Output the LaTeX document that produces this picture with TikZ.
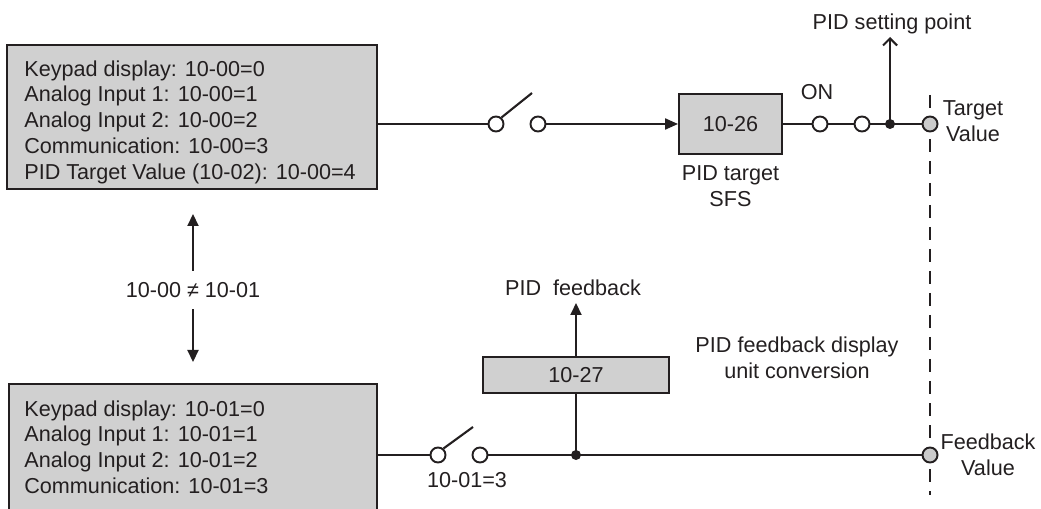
\documentclass[tikz,border=0pt]{standalone}
\usepackage{fontspec}
\setmainfont{Liberation Sans}
\usepackage{tikz}
\usetikzlibrary{positioning, arrows.meta, calc}
\definecolor{cInk}  {HTML}{231F20}
\definecolor{cPanel}{HTML}{D0D0D0}
\definecolor{cTerm} {HTML}{CBCBCB}
\tikzset{
  wire/.style={draw=cInk, line width=1.2pt},
  panelBox/.style={draw=cInk, fill=cPanel, line width=1.3pt, inner sep=0pt},
  paramBox/.style={draw=cInk, fill=cPanel, line width=1.1pt, text=cInk,
                   font=\fontsize{12.3}{14.7}\selectfont},
  contact/.style={circle, draw=cInk, fill=white, line width=1.1pt,
                  minimum size=3mm, inner sep=0pt},
  terminal/.style={contact, fill=cTerm},
  junction/.style={circle, fill=cInk, minimum size=2mm, inner sep=0pt},
  lbl/.style={font=\fontsize{12.3}{14.7}\selectfont, text=cInk,
              align=center, inner sep=0pt},
  tipFill/.style={-{Triangle[length=2.4mm, width=2.2mm]}},
}

\begin{document}
\begin{tikzpicture}
  \useasboundingbox (0,0) rectangle (208.2mm, 101.6mm);
  \clip (0,0) rectangle (208.2mm, 101.6mm);
  % source selection panels at left
  \node[panelBox, anchor=north west, minimum width=74mm, minimum height=28.8mm]
        (tgtSrc) at (1.2mm, 92.8mm) {};
  \node[lbl, align=left, anchor=north west] (tgtSrcText) at (4.8mm, 89.6mm)
        {Keypad display: 10-00=0\\Analog Input 1: 10-00=1\\Analog Input 2: 10-00=2\\
         Communication: 10-00=3\\PID Target Value (10-02): 10-00=4};
  \node[panelBox, anchor=north west, minimum width=73.6mm, minimum height=30mm]
        (fbSrc) at (1.6mm, 25mm) {};
  \node[lbl, align=left, anchor=north west] (fbSrcText) at (4.8mm, 21.6mm)
        {Keypad display: 10-01=0\\Analog Input 1: 10-01=1\\Analog Input 2: 10-01=2\\
         Communication: 10-01=3};
  % 10-00 vs 10-01
  \node[lbl, inner ysep=2.2mm] (neq) at (38.6mm, 43.6mm) {10-00 ≠ 10-01};
  \coordinate (neqUp) at (38.6mm, 58.8mm);
  \coordinate (neqDn) at (38.6mm, 29.2mm);
  \draw[wire, tipFill] (neq.north) -- (neqUp);
  \draw[wire, tipFill] (neq.south) -- (neqDn);
  % dashed output boundary
  \coordinate (dashTop) at (186mm, 82.6mm);
  \coordinate (dashBot) at (186mm, 2.6mm);
  \draw[wire, dash pattern=on 2.6mm off 1.8mm] (dashTop) -- (dashBot);
  % target path at top
  \node[contact] (tSwA) at (99.2mm, 76.8mm) {};
  \node[contact] (tSwB) at (107.6mm, 76.8mm) {};
  \coordinate (tLever) at (106.4mm, 83.0mm);
  \node[paramBox, minimum width=20.6mm, minimum height=12mm] (sfs) at (146.1mm, 76.8mm) {10-26};
  \node[lbl, below=2mm of sfs] (sfsLbl) {PID target\\SFS};
  \node[contact] (onA) at (164mm, 76.8mm) {};
  \node[contact] (onB) at (172.4mm, 76.8mm) {};
  \node[lbl] (onLbl) at (163.4mm, 83.2mm) {ON};
  \node[junction] (spDot) at (178mm, 76.8mm) {};
  \coordinate (spTip) at (178mm, 94.2mm);
  \node[lbl] (spLbl) at (178.4mm, 96.8mm) {PID setting point};
  \node[terminal] (tgtTerm) at (186mm, 76.8mm) {};
  \node[lbl] (tgtLbl) at (194.6mm, 77.4mm) {Target\\Value};
  \draw[wire] (tgtSrc.east |- tSwA) -- (tSwA.west);
  \draw[wire] (tSwA.50) -- (tLever);
  \draw[wire, -{Triangle[length=2.6mm, width=2.2mm]}] (tSwB.east) -- (sfs.west);
  \draw[wire] (sfs.east) -- (onA.west) (onA.east) -- (onB.west) (onB.east) -- (tgtTerm.west);
  \draw[wire, -{Straight Barb[length=1.4mm, width=2.8mm]}] (spDot.center) -- (spTip);
  % feedback path at bottom
  \node[contact] (bSwA) at (87.6mm, 10.6mm) {};
  \node[contact] (bSwB) at (96mm, 10.6mm) {};
  \coordinate (bLever) at (94.6mm, 16.2mm);
  \node[lbl] (bSwLbl) at (93.4mm, 5.6mm) {10-01=3};
  \node[junction] (fbDot) at (115.2mm, 10.6mm) {};
  \node[paramBox, minimum width=37.2mm, minimum height=7.2mm] (unitConv) at (115.2mm, 26.6mm) {10-27};
  \coordinate (fbTip) at (115.2mm, 41.0mm);
  \node[lbl] (fbOut) at (114.6mm, 44.0mm) {PID\ \ feedback};
  \node[lbl] (convLbl) at (159.4mm, 30.0mm) {PID feedback display\\unit conversion};
  \node[terminal] (fbTerm) at (186mm, 10.6mm) {};
  \node[lbl] (fbLbl) at (197.6mm, 10.6mm) {Feedback\\Value};
  \draw[wire] (fbSrc.east |- bSwA) -- (bSwA.west);
  \draw[wire] (bSwA.50) -- (bLever);
  \draw[wire] (bSwB.east) -- (fbTerm.west);
  \draw[wire] (fbDot.center) -- (unitConv.south);
  \draw[wire, tipFill] (unitConv.north) -- (fbTip);
\end{tikzpicture}
\end{document}
